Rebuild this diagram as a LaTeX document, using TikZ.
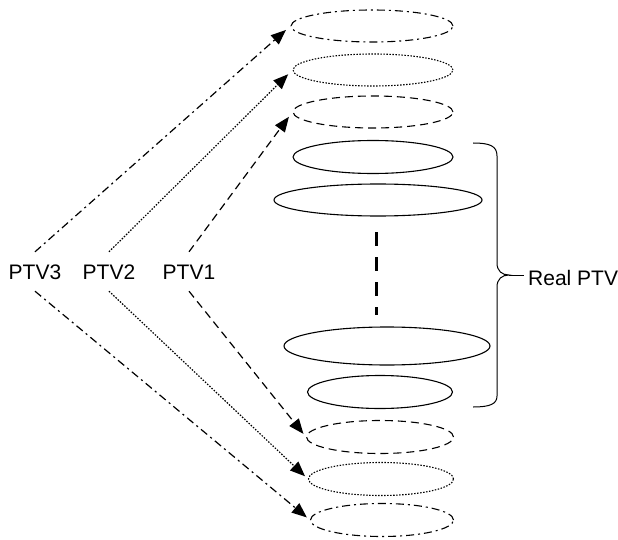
\documentclass[tikz,border=0pt]{standalone}
\usepackage{fontspec}
\setmainfont{Liberation Sans}
\usetikzlibrary{shapes.geometric,arrows.meta}

\tikzset{
  slice/.style={ellipse, draw, line width=1.1pt, inner sep=0pt},
  dashdotline/.style={dash pattern=on 8pt off 4pt on 2pt off 4pt},
  dashline/.style={dash pattern=on 8pt off 5pt},
  dotline/.style={dash pattern=on 1.5pt off 1.5pt},
  lbl/.style={font=\fontsize{21}{25}\selectfont, inner xsep=0pt, inner ysep=12pt,
              text height=15pt, text depth=0pt, anchor=base},
  arr/.style={line width=1.2pt, -{Triangle[length=15pt,width=12pt]}},
}

\begin{document}
\begin{tikzpicture}[x=1pt, y=-1pt]
  \useasboundingbox (0,0) rectangle (618,540);

  % margin slices above the real volume
  \node[slice, dashdotline, minimum width=162pt, minimum height=32pt] (e1) at (372,26) {};
  \node[slice, dotline,     minimum width=160pt, minimum height=32pt] (e2) at (373,70) {};
  \node[slice, dashline,    minimum width=160pt, minimum height=32pt] (e3) at (373,112) {};

  % real PTV slices
  \node[slice, minimum width=160pt, minimum height=33pt] (s1) at (373,157) {};
  \node[slice, minimum width=208pt, minimum height=32pt] (s2) at (378,200) {};
  \node[slice, minimum width=206pt, minimum height=38pt] (s3) at (387,346) {};
  \node[slice, minimum width=145pt, minimum height=33pt] (s4) at (380,392) {};

  % margin slices below the real volume
  \node[slice, dashline,    minimum width=147pt, minimum height=33pt] (e4) at (380,437) {};
  \node[slice, dotline,     minimum width=145pt, minimum height=33pt] (e5) at (381,479) {};
  \node[slice, dashdotline, minimum width=143pt, minimum height=33pt] (e6) at (382,520) {};

  % omitted slices
  \coordinate (gapTop) at (376,232);
  \coordinate (gapBot) at (376,315);
  \draw[line width=3pt, dash pattern=on 14pt off 11pt] (gapTop) -- (gapBot);

  % labels
  \node[lbl] (p3) at (35,279) {PTV3};
  \node[lbl] (p2) at (109,279) {PTV2};
  \node[lbl] (p1) at (189,279) {PTV1};

  % expansion arrows
  \draw[arr, dashdotline, shorten >=6pt] (p3.north) -- (e1.west);
  \draw[arr, dotline,     shorten >=6pt] (p2.north) -- (e2.west);
  \draw[arr, dashline,    shorten >=6pt] (p1.north) -- (e3.west);
  \draw[arr, dashline,    shorten >=4pt] (p1.south) -- (e4.west);
  \draw[arr, dotline,     shorten >=4pt] (p2.south) -- (e5.west);
  \draw[arr, dashdotline, shorten >=4pt] (p3.south) -- (e6.west);

  % brace around the real PTV
  \coordinate (tip) at (509,275);
  \draw[line width=1pt]
    (473,143) .. controls (490,143) and (497,146) .. (497,156)
    -- (497,263) .. controls (497,271) and (502,275) .. (tip)
    .. controls (502,275) and (497,279) .. (497,287)
    -- (497,396) .. controls (497,404) and (490,407) .. (473,407);
  \node[font=\fontsize{21}{25}\selectfont, inner sep=0pt, text height=15pt, text depth=0pt,
        anchor=base west] (real) at (528,285) {Real PTV};
  \draw[line width=1pt] (tip) -- ([xshift=-4pt]tip -| real.west);
\end{tikzpicture}
\end{document}
